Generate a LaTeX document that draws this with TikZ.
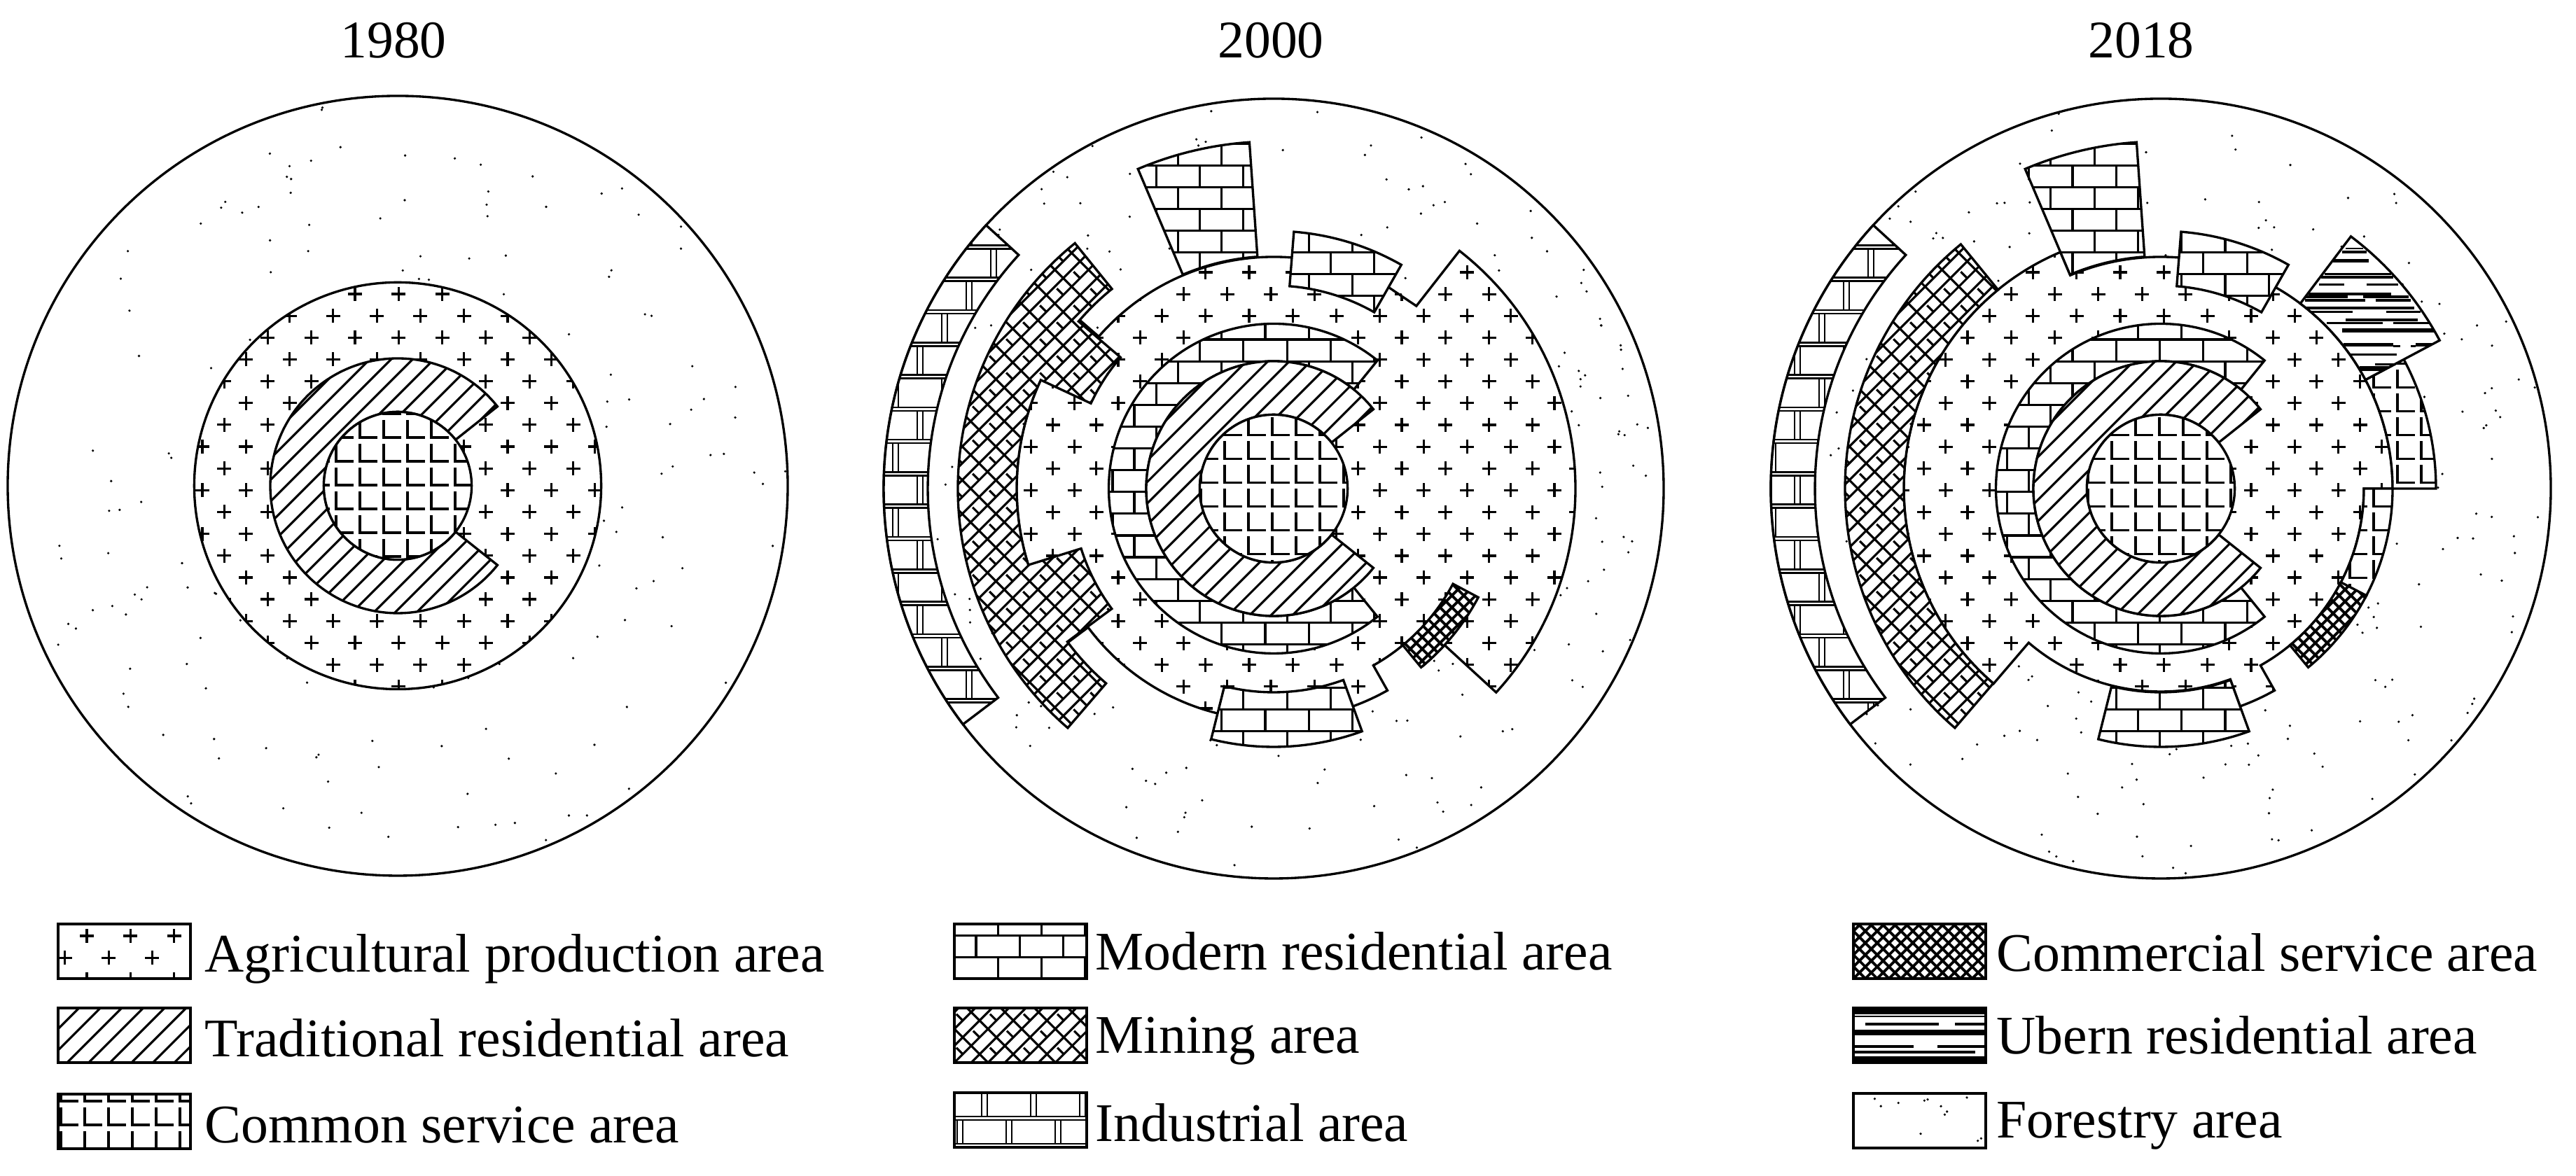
\documentclass[tikz,border=0pt]{standalone}
\usepackage{fontspec}
\setmainfont{Liberation Serif}
\usetikzlibrary{positioning}
\tikzset{
  edge/.style={line width=0.95pt},
  hatchline/.style={line width=0.9pt},
  forestdot/.style={fill=black},
  yeartitle/.style={font=\fontsize{21.5}{25}\selectfont,anchor=base,inner sep=0pt},
  legendtext/.style={font=\fontsize{22.1}{26}\selectfont,anchor=base west,inner sep=0pt}}
% ring shapes
\newcommand{\swing}[3]{arc[start angle=#1,end angle=#2,radius=#3]}
\newcommand{\ringpiece}[4]{(#1:#3) -- (#1:#4) \swing{#1}{#2}{#4} -- (#2:#3) \swing{#2}{#1}{#3} -- cycle}
\newcommand{\patcharea}[2]{\fill[white] #1;\begin{scope}\clip #1;#2\end{scope}\draw[edge] #1;}
% fill marks
\newcommand{\agrimarks}[2]{\draw[hatchline] \foreach \row in {-24,...,5}{\foreach \col in {-9,...,10}{
  ({#1+\col*62.3+mod(\row,2)*31.15},{#2+\row*31.15}) ++(-10,0) -- ++(20,0) ++(-10,-10) -- ++(0,20)}};}
\newcommand{\tradhatch}{\draw[hatchline] \foreach \k in {-9,...,9}{
  ({(-6.4+30.6*\k)/2-210},{(6.4-30.6*\k)/2-210}) -- ++(420,420)};}
\newcommand{\gridmarks}[2]{\draw[hatchline] \foreach \i in {-12,...,13}{\foreach \j in {-12,...,12}{
  ({#1+\i*34},{#2+\j*34+25}) -- ++(0,-25) -- ++(25,0)}};}
\newcommand{\brickmarks}[2]{\draw[hatchline] \foreach \row in {-31,...,2}{
  ({#1-620},{#2+\row*31.1}) -- ++(1240,0)
  \foreach \col in {-9,...,9}{({#1+\col*62.3+mod(\row,2)*31.15},{#2+\row*31.1}) -- ++(0,-31.1)}};}
\newcommand{\minemarks}{\begin{scope}[rotate=45]\draw[hatchline]
  \foreach \k in {-30,...,30}{(-520,\k*17) -- (520,\k*17)}
  \foreach \m in {-15,...,15}{(\m*34,-520) -- (\m*34,520)}
  \foreach \m in {-15,...,14}{\foreach \k in {-30,-28,...,28}{({(\m+0.5)*34},\k*17) -- ++(0,13)}};\end{scope}}
\newcommand{\shopmarks}{\begin{scope}[rotate=45]\draw[line width=1.1pt]
  \foreach \k in {-60,...,60}{(-720,\k*12) -- (720,\k*12) (\k*12,-720) -- (\k*12,720)};\end{scope}}
\newcommand{\millmarks}[3]{\draw[line width=0.75pt] \foreach \row in {-20,...,3}{
  ({#1-120},{#2+\row*#3}) -- ++(520,0) ({#1-120},{#2+\row*#3-5}) -- ++(520,0)
  \foreach \col in {-1,...,3}{({#1+\col*70+mod(\row,2)*35},{#2+\row*#3-5}) -- ++(0,5-#3) ++(8,0) -- ++(0,#3-5)}};}
\newcommand{\forestdots}[2]{\pgfmathsetseed{#1}\begin{scope}\clip (0,0) circle (557);
  \foreach \i in {1,...,#2}{\pgfmathsetmacro{\da}{rnd*360}\pgfmathsetmacro{\dr}{555*sqrt(0.07+0.93*rnd)}
  \fill[forestdot] (\da:\dr) circle (1.8);}\end{scope}\draw[edge] (0,0) circle (557);}
\newcommand{\legendswatch}[3]{\begin{scope}[shift={(#1,#2)}]\patcharea{(0,0) rectangle (189,78)}{#3}\end{scope}}

\begin{document}
\begin{tikzpicture}[x=0.01cm,y=0.01cm]
  \useasboundingbox (0,0) rectangle (3679,1680);
  \node[yeartitle] (t1980) at (562,1597) {1980};
  \node[yeartitle] (t2000) at (1815,1597) {2000};
  \node[yeartitle] (t2018) at (3058,1597) {2018};

  % Panel 1: 1980
  \begin{scope}[shift={(568,986)}]
    \forestdots{11}{190}
    \patcharea{(0,0) circle (290.6)}{\agrimarks{-61}{274}}
    \patcharea{\ringpiece{38.5}{321.5}{105.6}{182}}{\tradhatch}
    \patcharea{(0,0) circle (105.6)}{\gridmarks{14}{1}}
  \end{scope}

  % Panel 2: 2000
  \begin{scope}[shift={(1819,982)}]
    \forestdots{23}{300}
    \patcharea{(60:331) \swing{60}{139}{331} -- (139:367) \swing{139}{216.8}{367} -- (216.8:331) \swing{216.8}{299.4}{331}
      -- (299.4:290) \swing{299.4}{310}{290} -- (310:331) \swing{310}{317.5}{331} -- (317.5:431) \swing{317.5}{412}{431}
      -- (52:331) -- cycle}{\agrimarks{-97.4}{309}}
    \patcharea{\ringpiece{51}{309}{182}{235.5} \ringpiece{94}{113}{332}{496} \ringpiece{60.3}{85.5}{290}{368}
      \ringpiece{256}{290}{291}{369}}{\brickmarks{-105.5}{461.7}}
    \patcharea{\ringpiece{38.5}{321.5}{105.6}{182}}{\tradhatch}
    \patcharea{(0,0) circle (105.6)}{\gridmarks{-36}{42.5}}
    \patcharea{\ringpiece{309.5}{332}{290}{331}}{\shopmarks}
    \patcharea{(129:451) \swing{129}{229.3}{451} -- (229.3:367) \swing{229.3}{216.6}{367} -- (216.6:288) \swing{216.6}{197.3}{288}
      -- (197.3:367) \swing{197.3}{155}{367} -- (155:288) \swing{155}{139.4}{288} -- (139.4:367) \swing{139.4}{129}{367}
      -- cycle}{\minemarks}
    \patcharea{\ringpiece{137.5}{217.2}{494}{557}}{\millmarks{-509}{301.3}{46.3}}
  \end{scope}

  % Panel 3: 2018
  \begin{scope}[shift={(3086,982)}]
    \forestdots{37}{300}
    \patcharea{(94:331) \swing{94}{113}{331} -- (113:367) \swing{113}{229.4}{367} -- (229.4:290) \swing{229.4}{290}{290}
      -- (290:331) \swing{290}{299.4}{331} -- (299.4:290) \swing{299.4}{360}{290} -- (0:331) \swing{360}{454}{331}
      -- cycle}{\agrimarks{-58}{309}}
    \patcharea{\ringpiece{51}{309}{182}{235.5} \ringpiece{94}{113}{332}{496} \ringpiece{60.3}{85.5}{290}{368}
      \ringpiece{256}{290}{291}{369}}{\brickmarks{-126.1}{461.7}}
    \patcharea{\ringpiece{38.5}{321.5}{105.6}{182}}{\tradhatch}
    \patcharea{(0,0) circle (105.6) \ringpiece{0}{28}{331}{393} \ringpiece{332}{360}{290}{331}}{\gridmarks{-36}{42.5}}
    \patcharea{\ringpiece{309.5}{332.5}{290}{331}}{\shopmarks}
    \patcharea{\ringpiece{28}{53}{331}{451}}{\foreach \yz/\xa/\xb/\wd in {105/270/345/.6,120/255/360/1.2,158/215/370/1.6,215/180/465/1,
        228/165/475/1,260/155/265/1,260/360/495/1,300/110/465/1.2,312/100/280/1.2,312/345/540/1.2,327/95/355/1,327/400/550/1,
        360/100/565/1,377/120/300/1,377/445/590/1,412/270/580/1.2,425/190/430/1,425/475/630/1,457/255/650/1.8,518/260/475/1.5,
        518/570/660/1.5,524/475/505/.8,524/550/570/.8,560/290/490/1,602/395/490/1,620/330/480/1.8}
      {\draw[line width=\wd pt] ({174+\xa/3},{378-\yz/3}) -- ({174+\xb/3},{378-\yz/3});}}
    \patcharea{\ringpiece{129.3}{229.3}{367}{451}}{\minemarks}
    \patcharea{\ringpiece{137.5}{217.2}{494}{557}}{\millmarks{-523}{301.3}{46.3}}
  \end{scope}

  % Legend column 1
  \legendswatch{83}{282}{\agrimarks{41}{61}}
  \legendswatch{83}{162}{\begin{scope}[shift={(90,40)}]\tradhatch\end{scope}}
  \legendswatch{83}{39}{\gridmarks{4}{34}}
  \node[legendtext] (lagri) at (292,291) {Agricultural production area};
  \node[legendtext] (ltrad) at (292,170) {Traditional residential area};
  \node[legendtext] (lcomm) at (292,47) {Common service area};
  % Legend column 2
  \legendswatch{1363}{282}{\brickmarks{31}{61.3}}
  \legendswatch{1363}{162}{\minemarks}
  \legendswatch{1363}{41}{\millmarks{39}{83}{39}}
  \node[legendtext] (lmod) at (1564,294) {Modern residential area};
  \node[legendtext] (lmin) at (1564,175) {Mining area};
  \node[legendtext] (lind) at (1564,49) {Industrial area};
  % Legend column 3
  \legendswatch{2647}{282}{\shopmarks}
  \legendswatch{2647}{162}{\foreach \yy/\xa/\xb/\wd in {74/0/189/2.6,66/0/189/.8,55/17/122/1,55/145/189/1,43/0/189/2,23/0/86/1.2,23/120/189/1.2,15/0/174/1,4/0/189/3}
      {\draw[line width=\wd pt] (\xa,\yy) -- (\xb,\yy);}}
  \legendswatch{2647}{40}{\foreach \dx/\dy in {30.4/70.3,39.2/59.7,64.2/64.3,101.3/67.7,106/69.3,125/59.7,133.7/52,130.4/47.7,162/72,96/20.3,182.4/13.7,177.6/10.3}
      {\fill[forestdot] (\dx,\dy) circle (1.8);}}
  \node[legendtext] (lshop) at (2851,292) {Commercial service area};
  \node[legendtext] (lurb) at (2851,174) {Ubern residential area};
  \node[legendtext] (lfor) at (2851,54) {Forestry area};
\end{tikzpicture}
\end{document}
